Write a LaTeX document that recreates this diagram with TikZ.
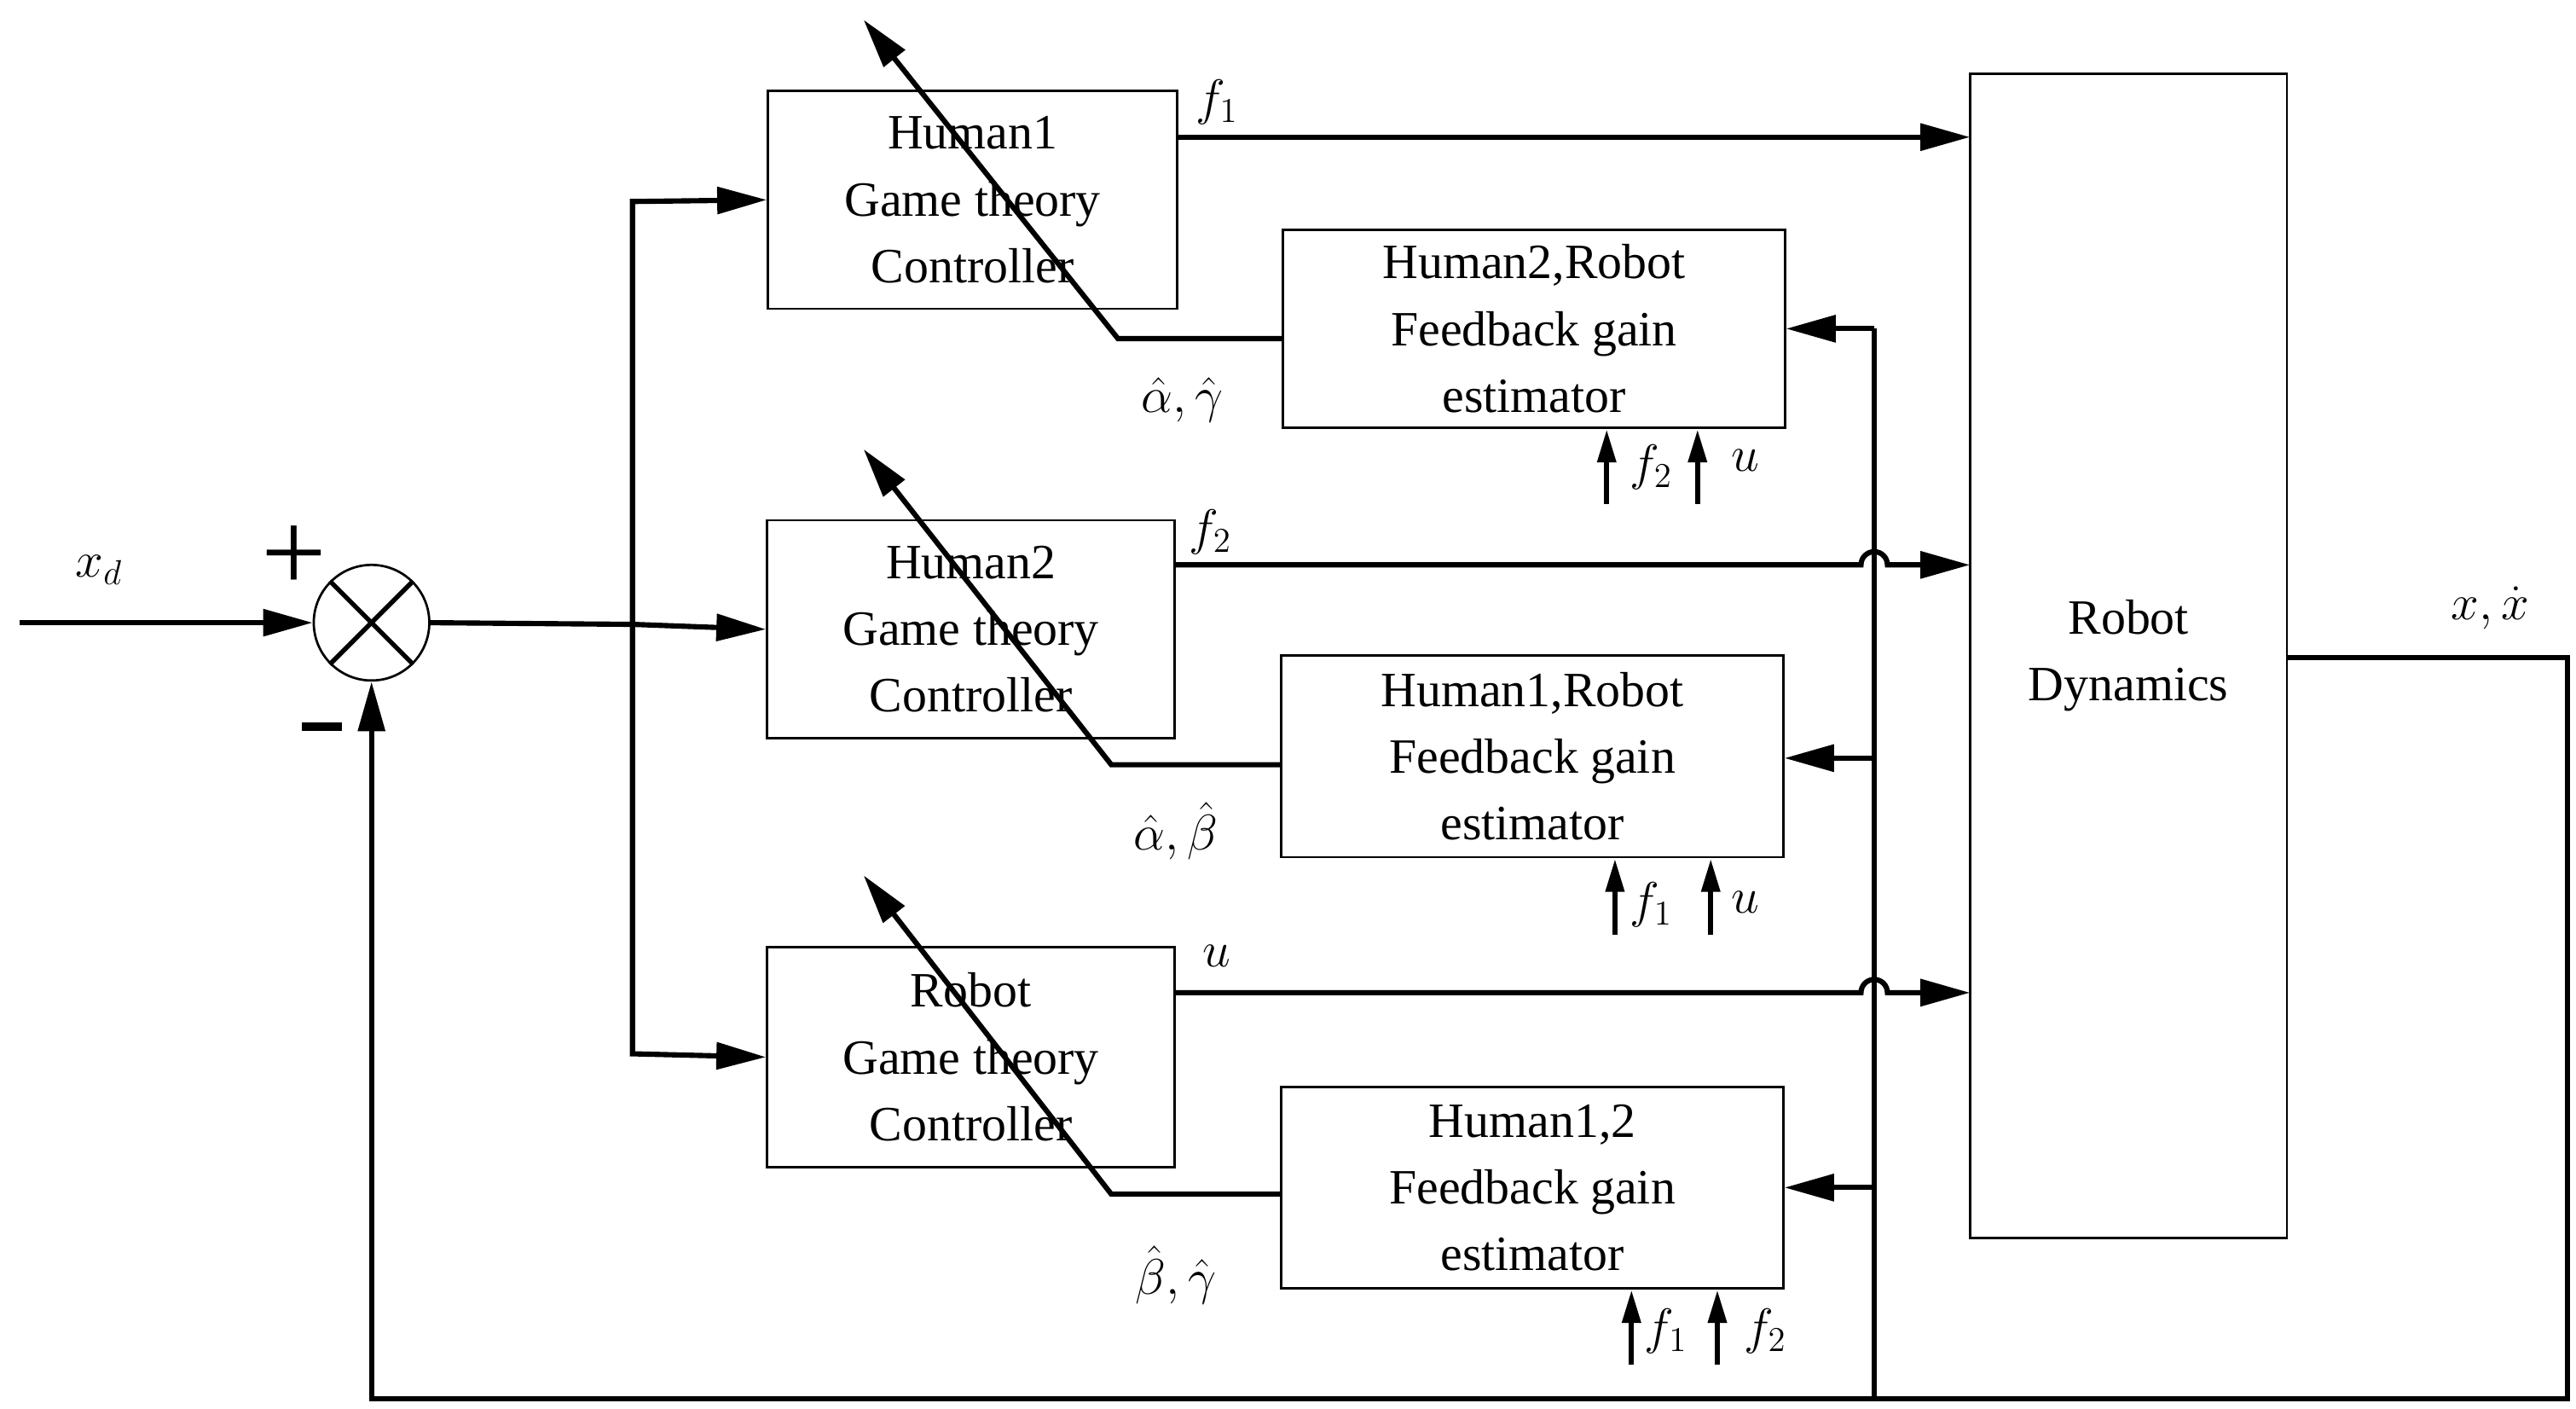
\documentclass[tikz,border=0pt]{standalone}
\usepackage{fontspec}
\setmainfont{Liberation Serif}
\usetikzlibrary{arrows.meta}
\begin{document}
\begin{tikzpicture}[x=0.02cm,y=-0.02cm,
  box/.style={draw,line width=0.8pt,minimum width=#1,inner sep=0pt,align=center,font=\fontsize{17}{23}\selectfont},
  ln/.style={line width=1.8pt},
  ar/.style={ln,-{Triangle[length=0.6cm,width=0.32cm]}},
  sar/.style={ln,-{Triangle[length=0.4cm,width=0.22cm]}},
  lab/.style={font=\fontsize{17}{20}\selectfont}]
\useasboundingbox (0,0) rectangle (1560,853);
% boxes
\node[box,minimum width=4.96cm,minimum height=2.64cm] (c1) at (589,121) {Human1\\Game theory\\Controller};
\node[box,minimum width=4.94cm,minimum height=2.64cm] (c2) at (588,381) {Human2\\Game theory\\Controller};
\node[box,minimum width=4.94cm,minimum height=2.66cm] (c3) at (588,640) {Robot\\Game theory\\Controller};
\node[box,minimum width=6.08cm,minimum height=2.4cm] (e1) at (929,199) {Human2,Robot\\Feedback gain\\estimator};
\node[box,minimum width=6.08cm,minimum height=2.44cm] (e2) at (928,458) {Human1,Robot\\Feedback gain\\estimator};
\node[box,minimum width=6.08cm,minimum height=2.44cm] (e3) at (928,719) {Human1,2\\Feedback gain\\estimator};
\node[box,minimum width=3.84cm,minimum height=14.1cm] (rd) at (1289,397) {Robot\\Dynamics};
\node[draw,circle,line width=0.8pt,minimum size=1.4cm,inner sep=0pt] (s) at (225,377) {};
\draw[line width=1.6pt] (s.45)--(s.225) (s.135)--(s.315);
% input
\coordinate (in) at (12,377);
\draw[ar] (in) -- (s.west);
\node[lab] (xd) at (60,345) {$x_d$};
\node[font=\fontsize{40}{40}\selectfont] (plus) at (178,338) {+};
\draw[line width=3pt] (183,440) -- (207,440);
% distribution
\coordinate (br) at (383,378);
\draw[ln] (s.east) -- (br);
\draw[ar] (br) -- (c2.west);
\draw[ar] (383,378) -- (383,122) -- (c1.west);
\draw[ar] (383,378) -- (383,638) -- (c3.west);
% outputs to robot dynamics
\draw[ar] (713,83) -- (1193,83);
\node[lab] (f1) at (737,62) {$f_1$};
\draw[ar] (712,342) -- (1127,342) arc[start angle=180,end angle=360,radius=8] -- (1193,342);
\node[lab] (f2) at (733,322) {$f_2$};
\draw[ar] (712,601) -- (1127,601) arc[start angle=180,end angle=360,radius=8] -- (1193,601);
\node[lab] (uu) at (737,579) {$u$};
% feedback loop
\coordinate (o1) at (1555,398);
\coordinate (o2) at (1555,847);
\coordinate (o3) at (225,847);
\draw[ar] (rd.east |- o1) -- (o1) -- (o2) -- (o3) -- (s.south);
\node[lab] (xx) at (1508,368) {$x,\dot{x}$};
\draw[ln] (1135,847) -- (1135,199);
\draw[ar] (1135,199) -- (e1.east);
\draw[ar] (1135,459) -- (e2.east |- 0,459);
\draw[ar] (1135,719) -- (e3.east |- 0,719);
% gain arrows
\draw[ar] (e1.west |- 0,205) -- (677,205) -- (523,12);
\draw[ar] (e2.west |- 0,463) -- (673,463) -- (523,272);
\draw[ar] (e3.west |- 0,723) -- (673,723) -- (523,530);
\node[lab] (g1) at (716,242) {$\hat{\alpha},\hat{\gamma}$};
\node[lab] (g2) at (712,503) {$\hat{\alpha},\hat{\beta}$};
\node[lab] (g3) at (712,772) {$\hat{\beta},\hat{\gamma}$};
% small inputs
\draw[sar] (973,305) -- (973,260);
\node[lab] (a1) at (1000,283) {$f_2$};
\draw[sar] (1028,305) -- (1028,260);
\node[lab] (a2) at (1057,279) {$u$};
\draw[sar] (978,566) -- (978,520);
\node[lab] (a3) at (1000,548) {$f_1$};
\draw[sar] (1036,566) -- (1036,520);
\node[lab] (a4) at (1057,546) {$u$};
\draw[sar] (988,826) -- (988,781);
\node[lab] (a5) at (1009,806) {$f_1$};
\draw[sar] (1040,826) -- (1040,781);
\node[lab] (a6) at (1069,806) {$f_2$};
\end{tikzpicture}
\end{document}
